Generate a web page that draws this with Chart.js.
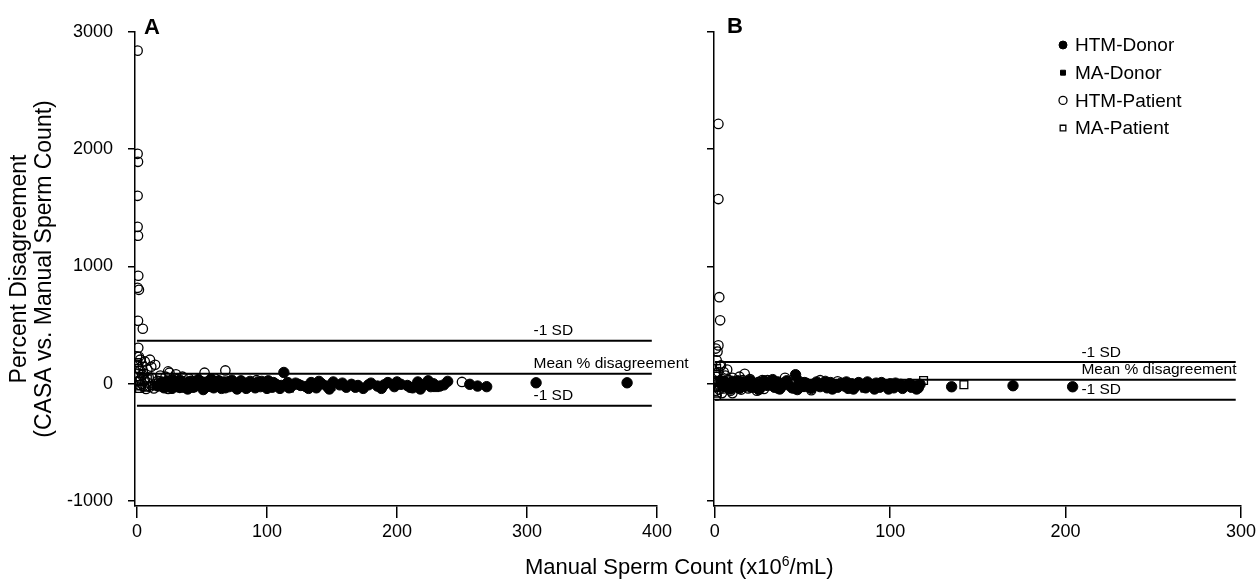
<!DOCTYPE html>
<html>
<head>
<meta charset="utf-8">
<script src="https://cdn.jsdelivr.net/npm/chart.js@4.4.1/dist/chart.umd.min.js"></script>
<style>
  body { margin: 0; background: #fff; width: 1259px; height: 579px; overflow: hidden; font-family: "Liberation Sans", Arial, sans-serif; }
  #wrapA { position: absolute; left: 0; top: 0; width: 690px; height: 579px; }
  #wrapB { position: absolute; left: 690px; top: 0; width: 569px; height: 579px; }
  #xTitle { position: absolute; left: 525px; top: 556px; font-size: 22px; line-height: 22px; white-space: nowrap; color: #000; }
  #xTitle sup { font-size: 14px; line-height: 0; vertical-align: 0; position: relative; top: -8px; }
</style>
</head>
<body>
<div id="wrapA"><canvas id="chartA"></canvas></div>
<div id="wrapB"><canvas id="chartB"></canvas></div>
<div id="xTitle">Manual Sperm Count (x10<sup>6</sup>/mL)</div>
<script>
// axis ticks
const yTicks = [-1000, 0, 1000, 2000, 3000];
const xTicksA = [0, 100, 200, 300, 400];
const xTicksB = [0, 100, 200, 300];

// reference lines: upper -1 SD, mean, lower -1 SD
const refLabels = ["-1 SD", "Mean % disagreement", "-1 SD"];
const refLinesA = [366, 85, -188];
const refLinesB = [185, 34, -137];

const seriesNames = ["HTM-Donor", "MA-Donor", "HTM-Patient", "MA-Patient"];

// panel A  [x, y]
const aHtmDonor = [[16,-20],[19,15],[21,-35],[23,20],[25,-5],[27,-40],[29,10],[31,-25],[33,30],[35,-10],[37,5],[39,-45],[41,20],[43,-30],[45,0],[47,35],[49,-15],[51,-50],[53,10],[55,-20],[57,40],[59,-35],[61,-5],[63,25],[65,-40],[67,15],[69,-10],[71,-25],[73,30],[75,-5],[77,-45],[79,10],[81,-20],[83,5],[85,-30],[87,20],[89,-10],[91,-35],[93,15],[95,-25],[97,0],[99,-15],[101,25],[104,-30],[107,-5],[110,-40],[113,96],[116,10],[119,-20],[122,5],[126,-15],[130,-25],[134,10],[138,-35],[142,0],[146,-20],[151,15],[156,-10],[161,-30],[165,-5],[170,-15],[174,-40],[180,5],[185,-20],[190,-10],[193,10],[198,-25],[203,-5],[208,-15],[212,-35],[216,15],[220,-10],[224,25],[228,0],[233,-20],[239,20],[256,-5],[262,-20],[269,-25],[307,8],[377,8],
  [20,5],[24,-25],[28,30],[32,-10],[36,-30],[40,10],[44,-20],[48,25],[52,-35],[56,0],[60,20],[64,-15],[68,-35],[72,10],[76,-20],[80,25],[84,-40],[88,0],[92,-20],[96,20],[100,-40],[105,10],[111,-15],[117,-35],[124,-5],[132,-40],[140,20],[148,-45],[158,5],[168,-30],[178,-10],[188,-40],[200,15],[210,-30],[218,-45],[226,-25],[236,-10]];
const aMaDonor = [[14,-25],[22,15],[32,-40],[48,5],[58,-20],[82,-35],[108,-5],[118,-45],[150,-30],[230,-40]];
const aHtmPatient = [[0.5,2841],[0.5,1961],[0.8,1893],[0.5,1603],[0.5,1338],[0.8,1262],[1,921],[0.5,818],[1.5,801],[0.8,537],[4.5,469],
  [1,307],[0,233],[1.5,230],[2.5,205],[10,205],[14,162],[11,145],[0.2,162],[2.5,111],[24,105],[68,113],[52,94],[25,94],[6,190],[8,120],[4,75],[18,70],[35,60],[40,45],[30,80],
  [1,20],[2,-10],[3,40],[4,0],[5,-20],[6,30],[7,-45],[8,10],[9,55],[10,-25],[12,50],[13,-40],[14,-5],[16,25],[17,20],[19,-15],[20,-30],[22,60],[24,-45],[25,10],[27,35],[28,-15],[31,40],[33,-35],[34,5],[36,20],[38,-20],[42,25],[44,-30],[46,-10],[50,15],[55,-25],[60,45],[66,-15],[70,20],[92,30],[250,15]];
const aMaPatient = [[0.5,180],[1.5,130],[1,60],[3,-20],[5,90],[2,20],[6,-30],[8,40],[4,150],[12,-15],[2,-40]];

// panel B  [x, y]
const bHtmDonor = [[4,-15],[6,10],[8,-30],[10,20],[12,-5],[14,-40],[16,15],[18,-20],[20,30],[22,-10],[24,5],[26,-35],[28,25],[30,-15],[32,0],[34,-30],[36,15],[38,-25],[40,10],[42,-10],[44,-35],[46,77],[48,20],[50,-20],[52,5],[54,-30],[56,-5],[58,15],[60,-25],[62,0],[64,-35],[66,10],[68,-15],[70,-30],[72,5],[74,-20],[76,-40],[78,0],[80,-25],[82,10],[84,-15],[86,-35],[88,-5],[90,-20],[92,5],[94,-30],[96,-10],[98,-25],[100,0],[102,-35],[104,-15],[106,-5],[108,-25],[110,-10],[112,-30],[114,-20],[116,-35],[135,-26],[170,-17],[204,-26],
  [5,20],[9,-45],[13,25],[17,-10],[21,10],[25,-50],[29,0],[33,35],[37,-45],[41,25],[47,-50],[51,10],[55,-40],[59,-15],[63,20],[67,-45],[71,-10],[75,15],[79,-45],[83,-5],[87,15],[91,-45],[95,10],[99,-45],[103,5],[107,-40],[111,0],[115,-45],[117,-5]];
const bMaDonor = [[6,-40],[13,-15],[21,-45],[35,-25],[50,-40],[67,-30],[85,-45],[100,-30],[115,-15]];
const bHtmPatient = [[2,2216],[2,1575],[2.5,738],[3,541],[2,327],[1.5,274],[3.5,156],[7,120],[17,85],[0.5,300],[1,200],[2,100],[1,60],[2,20],[3,-20],[0.5,-60],[1,-100],[4,40],[5,-40],[6,70],[7,-10],[8,30],[9,-60],[10,50],[11,-25],[12,10],[14,60],[15,-50],[18,0],[20,40],[22,-30],[25,15],[28,-45],[30,30],[34,-10],[40,50],[45,-40],[55,-55],[70,20],
  [0.5,20],[1,-30],[1.5,90],[2.5,-50],[3,150],[4,-80],[5,100],[6,-20],[8,-40],[10,-80],[13,-30],[16,30],[19,-40],[24,-60],[27,30],[32,25],[36,-40],[43,10],[50,-20],[60,30]];
const bMaPatient = [[1,130],[0.5,80],[2,-30],[3,20],[1,-80],[5,-10],[119,28],[142,-8]];

const FONT = '"Liberation Sans", Arial, sans-serif';

const styles = [
  { pointStyle: "circle", pointRadius: 5.2, backgroundColor: "#000", borderColor: "#000", borderWidth: 1, legendRadius: 4 },
  { pointStyle: "rect", pointRadius: 4.5, backgroundColor: "#000", borderColor: "#000", borderWidth: 1, legendRadius: 3.5 },
  { pointStyle: "circle", pointRadius: 4.7, backgroundColor: "rgba(0,0,0,0)", borderColor: "#000", borderWidth: 1.3, legendRadius: 4 },
  { pointStyle: "rect", pointRadius: 5.5, backgroundColor: "rgba(0,0,0,0)", borderColor: "#000", borderWidth: 1.3, legendRadius: 4 }
];

function toPoints(arr) {
  return arr.map(p => ({ x: p[0], y: p[1] }));
}

const panelDecor = {
  id: "panelDecor",
  afterDatasetsDraw(chart, args, opts) {
    const { ctx, chartArea, scales } = chart;
    ctx.save();
    ctx.fillStyle = "#000";
    ctx.textAlign = "left";
    // labels over the reference lines
    ctx.font = "15.5px " + FONT;
    ctx.textBaseline = "bottom";
    opts.lines.forEach((v, i) => {
      ctx.fillText(refLabels[i], scales.x.getPixelForValue(opts.labelX), scales.y.getPixelForValue(v) - 2);
    });
    // panel letter
    ctx.font = "bold 22px " + FONT;
    ctx.textBaseline = "alphabetic";
    ctx.fillText(opts.letter, chartArea.left + opts.letterDx, opts.letterY);
    // legend
    if (opts.legend) {
      ctx.font = "19px " + FONT;
      ctx.textBaseline = "middle";
      seriesNames.forEach((name, i) => {
        const st = styles[i];
        const yy = opts.legend.y + i * opts.legend.step;
        ctx.fillStyle = st.backgroundColor;
        ctx.strokeStyle = st.borderColor;
        ctx.lineWidth = st.borderWidth;
        Chart.helpers.drawPoint(ctx, { pointStyle: st.pointStyle, radius: st.legendRadius, rotation: 0, borderWidth: st.borderWidth }, opts.legend.x, yy);
        ctx.fillStyle = "#000";
        ctx.fillText(name, opts.legend.x + 12, yy + 1);
      });
    }
    ctx.restore();
  }
};

function makePanel(canvasId, series, lines, lineEnd, xMin, xMax, xTicks, yWidth, showY, padRight, decor) {
  const datasets = series.map((s, i) => Object.assign({
    label: seriesNames[i],
    data: toPoints(s),
    order: 1
  }, styles[i]));
  lines.forEach(v => {
    datasets.push({
      type: "line",
      data: [{ x: 0, y: v }, { x: lineEnd, y: v }],
      borderColor: "#000",
      borderWidth: 2,
      pointRadius: 0,
      showLine: true,
      order: 2
    });
  });

  const axisGrid = { drawOnChartArea: false, color: "#000", lineWidth: 1.5 };

  return new Chart(document.getElementById(canvasId), {
    type: "scatter",
    data: { datasets: datasets },
    plugins: [panelDecor],
    options: {
      responsive: true,
      maintainAspectRatio: false,
      animation: false,
      layout: { padding: { left: 0, right: padRight, top: 32, bottom: 0 } },
      plugins: {
        legend: { display: false },
        tooltip: { enabled: false },
        panelDecor: decor
      },
      scales: {
        x: {
          type: "linear",
          min: xMin,
          max: xMax,
          afterBuildTicks: s => { s.ticks = xTicks.map(v => ({ value: v })); },
          afterFit: s => { s.height = 73; },
          ticks: { color: "#000", font: { size: 18, family: FONT }, padding: 3, maxRotation: 0, callback: v => String(v) },
          grid: Object.assign({ tickLength: 12 }, axisGrid),
          border: { color: "#000", width: 1.5 }
        },
        y: {
          type: "linear",
          min: -1043,
          max: 3000,
          afterBuildTicks: s => { s.ticks = yTicks.map(v => ({ value: v })); },
          afterFit: s => { s.width = yWidth; },
          ticks: { display: showY, color: "#000", font: { size: 18, family: FONT }, padding: 15, callback: v => String(v) },
          grid: Object.assign({ tickLength: 7 }, axisGrid),
          border: { color: "#000", width: 1.5 },
          title: {
            display: showY,
            text: ["Percent Disagreement", "(CASA vs. Manual Sperm Count)"],
            color: "#000",
            font: { size: 23, family: FONT, lineHeight: 1.09 },
            padding: { top: 7, bottom: 0 }
          }
        }
      }
    }
  });
}

makePanel("chartA", [aHtmDonor, aMaDonor, aHtmPatient, aMaPatient], refLinesA, 396, -1.5, 400, xTicksA, 135, true, 33,
  { lines: refLinesA, labelX: 305, letter: "A", letterDx: 9, letterY: 34, legend: null });

makePanel("chartB", [bHtmDonor, bMaDonor, bHtmPatient, bMaPatient], refLinesB, 297, -0.5, 300, xTicksB, 24, false, 18,
  { lines: refLinesB, labelX: 209, letter: "B", letterDx: 13, letterY: 33, legend: { x: 373, y: 45, step: 27.7 } });
</script>
</body>
</html>
